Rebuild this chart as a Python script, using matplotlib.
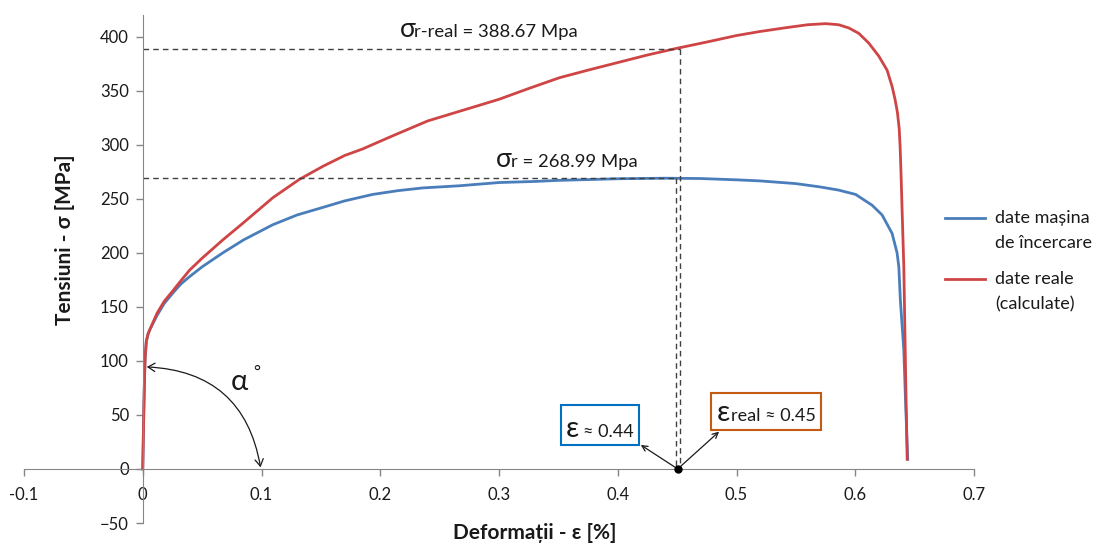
import numpy as np
import matplotlib.pyplot as plt
from matplotlib.patches import FancyArrowPatch, Rectangle
from matplotlib.lines import Line2D

plt.rcParams['font.family'] = ['Lato', 'DejaVu Sans']

# date masina de incercare (curba ingineresca)
eps_masina = [0.0, 0.0005, 0.001, 0.0015, 0.002, 0.003, 0.0045, 0.006, 0.012, 0.018,
              0.0255, 0.032, 0.0395, 0.05, 0.0675, 0.085, 0.1096, 0.13, 0.1517, 0.17,
              0.1937, 0.215, 0.2357, 0.2666, 0.30, 0.33, 0.35, 0.40, 0.44, 0.47,
              0.50, 0.52, 0.55, 0.57, 0.586, 0.6003, 0.6142, 0.6226, 0.631, 0.6352,
              0.6367, 0.638, 0.6409, 0.6423, 0.6442]
sig_masina = [0, 30, 60, 85, 103, 118, 125, 129, 142, 153,
              163, 171, 178, 187, 200, 212, 226, 235, 242, 248,
              254, 257.5, 260, 262, 265, 266, 267, 268.5, 269, 268.7,
              267.5, 266.5, 264, 261, 258, 254, 244, 235, 218, 200,
              187, 156, 110, 64, 9]

# date reale (calculate)
eps_real = [0.0, 0.0005, 0.001, 0.0015, 0.002, 0.003, 0.0045, 0.006, 0.012, 0.018,
            0.0255, 0.032, 0.0395, 0.05, 0.0675, 0.085, 0.1096, 0.132, 0.1517, 0.17,
            0.185, 0.21, 0.24, 0.27, 0.30, 0.325, 0.351, 0.375, 0.40, 0.425,
            0.449, 0.475, 0.50, 0.519, 0.54, 0.56, 0.575, 0.586, 0.5946, 0.603,
            0.6114, 0.6198, 0.6268, 0.631, 0.6335, 0.6355, 0.637, 0.6378, 0.6385, 0.6396,
            0.6409, 0.6423, 0.6437]
sig_real = [0, 30, 60, 85, 103, 118, 125, 129, 144, 155,
            165, 174, 184, 195, 212, 228, 251, 268, 280, 290,
            296, 308, 322, 332, 342, 352, 362, 369, 376, 383,
            389, 395, 401, 404.6, 408, 411, 412, 411, 408, 403,
            394, 382, 369, 354, 342, 330, 315, 298, 275, 234,
            187, 95, 9]

sigma_r = 268.99
sigma_r_real = 388.67
eps_r = 0.449
eps_r_real = 0.452

blue = '#4A7EBB'
red = '#CF4545'
axis_gray = '#868686'
txt = '#1a1a1a'

fig = plt.figure(figsize=(10.98, 5.43), dpi=100)
ax = fig.add_axes([24 / 1098, 20 / 543, 950 / 1098, 508 / 543])

ax.plot(eps_masina, sig_masina, color=blue, lw=2)
ax.plot(eps_real, sig_real, color=red, lw=2)

# linii punctate
dash = dict(color='#404040', lw=1, ls=(0, (4, 3)))
ax.plot([0, eps_r_real], [sigma_r_real, sigma_r_real], **dash)
ax.plot([eps_r_real, eps_r_real], [sigma_r_real, 0], **dash)
ax.plot([0, eps_r], [sigma_r, sigma_r], **dash)
ax.plot([eps_r, eps_r], [sigma_r, 0], **dash)
dot_x = (eps_r + eps_r_real) / 2
ax.plot([dot_x], [0], 'o', color='black', ms=5, zorder=5)

ax.set_xlim(-0.1, 0.7)
ax.set_ylim(-50, 420)
ax.set_xticks(np.arange(-0.1, 0.71, 0.1))
ax.set_xticklabels(['-0.1', '0', '0.1', '0.2', '0.3', '0.4', '0.5', '0.6', '0.7'])
ax.set_yticks(np.arange(-50, 401, 50))

for s in ['top', 'right']:
    ax.spines[s].set_visible(False)
ax.spines['left'].set_position(('data', 0))
ax.spines['bottom'].set_position(('data', 0))
ax.spines['left'].set_color(axis_gray)
ax.spines['bottom'].set_color(axis_gray)
ax.tick_params(colors=axis_gray, labelcolor=txt, labelsize=12, length=5, width=1)
ax.tick_params(axis='x', pad=8)
ax.tick_params(axis='y', pad=5)
ax.patch.set_visible(False)

fig.text(65 / 1098, 1 - 240 / 543, 'Tensiuni - σ [MPa]', rotation=90, ha='center', va='center',
         fontsize=15, fontweight='bold', color=txt)
fig.text(535 / 1098, 1 - 533 / 543, 'Deformații - ε [%]', ha='center', va='center',
         fontsize=15, fontweight='bold', color=txt)

# etichete sigma
ax.text(0.2162, 400, 'σ', fontsize=19, va='baseline', color=txt)
ax.text(0.2285, 400, 'r-real = 388.67 Mpa', fontsize=13.3, va='baseline', color=txt)
ax.text(0.2977, 279.5, 'σ', fontsize=19, va='baseline', color=txt)
ax.text(0.3100, 279.5, 'r = 268.99 Mpa', fontsize=13.3, va='baseline', color=txt)

# unghi alfa
arc = FancyArrowPatch((0.0034, 94.4), (0.0992, 1.5), arrowstyle='<->,head_length=5,head_width=3',
                      connectionstyle='arc3,rad=-0.4', color=txt, lw=0.9,
                      shrinkA=0, shrinkB=0, mutation_scale=1)
ax.add_patch(arc)
ax.text(0.074, 80, 'α', fontsize=21, va='center', color=txt)
ax.text(0.093, 90, '°', fontsize=12, va='center', color=txt)

# casete epsilon
ax.add_patch(Rectangle((0.3524, 22.2), 0.0656, 37.1, fill=False, ec='#0070C0', lw=1.5))
ax.text(0.3560, 29.6, 'ε', fontsize=21, va='baseline', color=txt)
ax.text(0.3705, 29.6, '≈ 0.44', fontsize=13, va='baseline', color=txt)
ax.add_patch(Rectangle((0.4786, 36.1), 0.0925, 34.3, fill=False, ec='#C55A11', lw=1.5))
ax.text(0.4830, 44.4, 'ε', fontsize=21, va='baseline', color=txt)
ax.text(0.4955, 44.4, 'real ≈ 0.45', fontsize=13, va='baseline', color=txt)

ax.annotate('', xy=(0.4194, 22.2), xytext=(dot_x, 0),
            arrowprops=dict(arrowstyle='->', color=txt, lw=0.9, shrinkA=0, shrinkB=0))
ax.annotate('', xy=(0.4853, 34.5), xytext=(dot_x, 0),
            arrowprops=dict(arrowstyle='->', color=txt, lw=0.9, shrinkA=0, shrinkB=0))

# legenda
legend_items = [(blue, 'date mașina', 'de încercare', 218), (red, 'date reale', '(calculate)', 279)]
for col, l1, l2, ypx in legend_items:
    fig.add_artist(Line2D([945 / 1098, 985 / 1098], [1 - ypx / 543] * 2, color=col, lw=2,
                          transform=fig.transFigure))
    fig.text(995 / 1098, 1 - ypx / 543, l1, va='center', fontsize=13, color=txt)
    fig.text(995 / 1098, 1 - (ypx + 25) / 543, l2, va='center', fontsize=13, color=txt)

fig.savefig('out.png', dpi=100)
